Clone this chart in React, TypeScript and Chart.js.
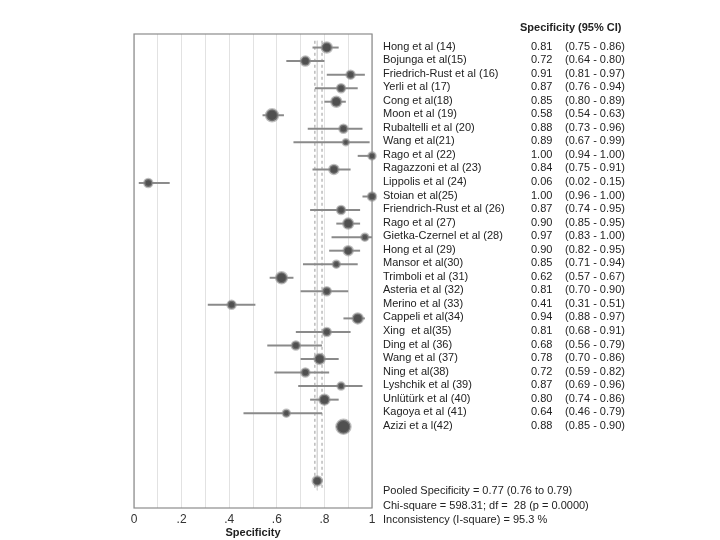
import React, { useEffect, useRef } from "react";
import { Chart, registerables } from "chart.js";

Chart.register(...registerables);

const studies = [
  "Hong et al (14)", "Bojunga et al(15)", "Friedrich-Rust et al (16)", "Yerli et al (17)",
  "Cong et al(18)", "Moon et al (19)", "Rubaltelli et al (20)", "Wang et al(21)",
  "Rago et al (22)", "Ragazzoni et al (23)", "Lippolis et al (24)", "Stoian et al(25)",
  "Friendrich-Rust et al (26)", "Rago et al (27)", "Gietka-Czernel et al (28)", "Hong et al (29)",
  "Mansor et al(30)", "Trimboli et al (31)", "Asteria et al (32)", "Merino et al (33)",
  "Cappeli et al(34)", "Xing  et al(35)", "Ding et al (36)", "Wang et al (37)",
  "Ning et al(38)", "Lyshchik et al (39)", "Unlütürk et al (40)", "Kagoya et al (41)",
  "Azizi et a l(42)",
];
const estimates = [0.81, 0.72, 0.91, 0.87, 0.85, 0.58, 0.88, 0.89, 1.0, 0.84, 0.06, 1.0, 0.87, 0.9, 0.97, 0.9, 0.85, 0.62, 0.81, 0.41, 0.94, 0.81, 0.68, 0.78, 0.72, 0.87, 0.8, 0.64, 0.88];
const lower = [0.75, 0.64, 0.81, 0.76, 0.8, 0.54, 0.73, 0.67, 0.94, 0.75, 0.02, 0.96, 0.74, 0.85, 0.83, 0.82, 0.71, 0.57, 0.7, 0.31, 0.88, 0.68, 0.56, 0.7, 0.59, 0.69, 0.74, 0.46, 0.85];
const upper = [0.86, 0.8, 0.97, 0.94, 0.89, 0.63, 0.96, 0.99, 1.0, 0.91, 0.15, 1.0, 0.95, 0.95, 1.0, 0.95, 0.94, 0.67, 0.9, 0.51, 0.97, 0.91, 0.79, 0.86, 0.82, 0.96, 0.86, 0.79, 0.9];
const weights = [5, 4.5, 4, 4, 5, 6, 4, 3, 3.5, 4.5, 4, 4, 4, 5, 3.5, 4.5, 3.5, 5.5, 4, 4, 5, 4, 4, 5, 4, 3.5, 5, 3.5, 7];
const pooled = 0.77;
const pooledLow = 0.76;
const pooledHigh = 0.79;
const xTickLabels: Record<string, string> = { "0": "0", "0.2": ".2", "0.4": ".4", "0.6": ".6", "0.8": ".8", "1": "1" };
const headerText = "Specificity (95% CI)";
const footerLines = [
  "Pooled Specificity = 0.77 (0.76 to 0.79)",
  "Chi-square = 598.31; df =  28 (p = 0.0000)",
  "Inconsistency (I-square) = 95.3 %",
];

const FONT = "'Liberation Sans', Arial, sans-serif";

const textPlugin = {
  id: "forestText",
  beforeDatasetsDraw(chart: any) {
    const { ctx, chartArea } = chart;
    ctx.save();
    ctx.strokeStyle = "#8c8c8c";
    ctx.lineWidth = 1.2;
    ctx.strokeRect(chartArea.left, chartArea.top, chartArea.right - chartArea.left, chartArea.bottom - chartArea.top);
    ctx.restore();
  },
  afterDraw(chart: any) {
    const { ctx } = chart;
    const y = chart.scales.y;
    ctx.save();
    ctx.fillStyle = "#222";
    ctx.textBaseline = "middle";
    ctx.font = `11px ${FONT}`;
    studies.forEach((s, i) => {
      const py = y.getPixelForValue(i) - 1;
      ctx.fillText(s, 383, py);
      ctx.fillText(estimates[i].toFixed(2), 531, py);
      ctx.fillText(`(${lower[i].toFixed(2)} - ${upper[i].toFixed(2)})`, 565, py);
    });
    ctx.font = `bold 11px ${FONT}`;
    ctx.fillText(headerText, 520, y.getPixelForValue(-1.45));
    ctx.font = `11px ${FONT}`;
    const fy = [32.75, 33.85, 34.85];
    footerLines.forEach((t, k) => ctx.fillText(t, 383, y.getPixelForValue(fy[k])));
    ctx.restore();
  },
};

export default function App() {
  const ref = useRef<HTMLCanvasElement>(null);
  useEffect(() => {
    document.body.style.margin = "0";
    const ciSets = studies.map((_, i) => ({
      type: "scatter" as const,
      data: [{ x: lower[i], y: i }, { x: upper[i], y: i }],
      showLine: true,
      borderColor: "#8a8a8a",
      borderWidth: 2,
      pointRadius: 0,
      order: 2,
    }));
    const refLine = (v: number, dash: number[], color: string) => ({
      type: "scatter" as const,
      data: [{ x: v, y: -0.5 }, { x: v, y: 32.7 }],
      showLine: true,
      borderColor: color,
      borderWidth: 1,
      borderDash: dash,
      pointRadius: 0,
      order: 3,
    });
    const chart = new Chart(ref.current!, {
      type: "scatter",
      data: {
        datasets: [
          refLine(pooledLow, [3, 3], "#9a9a9a"),
          refLine(pooledHigh, [3, 3], "#9a9a9a"),
          refLine(pooled, [], "#d8d8d8"),
          ...ciSets,
          {
            type: "scatter",
            data: estimates.map((e, i) => ({ x: e, y: i })),
            pointRadius: weights,
            backgroundColor: "#505050",
            borderColor: "rgba(140,140,140,0.55)",
            borderWidth: 2.5,
            clip: false,
            order: 1,
          },
          {
            type: "scatter",
            data: [{ x: pooled, y: 32 }],
            pointRadius: 4.5,
            backgroundColor: "#505050",
            borderColor: "rgba(140,140,140,0.55)",
            borderWidth: 2.5,
            clip: false,
            order: 1,
          },
        ],
      } as any,
      options: {
        animation: false,
        responsive: false,
        layout: { padding: { left: 134, right: 348, top: 34, bottom: 0 } },
        plugins: { legend: { display: false }, tooltip: { enabled: false } },
        scales: {
          x: {
            type: "linear",
            min: 0,
            max: 1,
            afterFit: (s: any) => { s.height = 32; },
            grid: { color: "#e2e2e2", lineWidth: 1, drawTicks: false },
            border: { display: false },
            ticks: {
              stepSize: 0.1,
              padding: 4,
              color: "#333",
              font: { family: FONT, size: 12 },
              autoSkip: false,
              maxRotation: 0,
              callback: (v: any) => xTickLabels[String(Math.round(Number(v) * 10) / 10)] ?? "",
            },
            title: {
              display: true,
              text: "Specificity",
              color: "#222",
              font: { family: FONT, size: 11, weight: "bold" },
              padding: { top: 0, bottom: 0 },
            },
          },
          y: {
            type: "linear",
            reverse: true,
            min: -1,
            max: 34,
            display: false,
          },
        },
      },
      plugins: [textPlugin],
    });
    return () => chart.destroy();
  }, []);
  return (
    <div style={{ position: "absolute", left: 0, top: 0, width: 720, height: 540, background: "#fff" }}>
      <canvas ref={ref} width={720} height={540} style={{ width: 720, height: 540 }} />
    </div>
  );
}
